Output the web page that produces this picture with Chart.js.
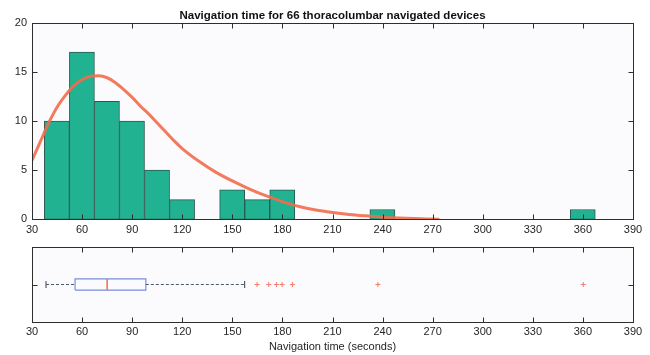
<!DOCTYPE html>
<html>
<head>
<meta charset="utf-8">
<script src="https://cdn.jsdelivr.net/npm/chart.js@4.4.1/dist/chart.umd.min.js"></script>
<style>
    html, body { margin: 0; padding: 0; background: #fff; }
    #wrap { position: relative; width: 650px; height: 355px; }
    canvas { position: absolute; left: 0; }
    #hist { top: 0; }
    #box { top: 240px; }
</style>
</head>
<body>
<div id="wrap">
    <canvas id="hist" width="650" height="240"></canvas>
    <canvas id="box" width="650" height="115"></canvas>
</div>
<script>
// Тексты
const TITLE = 'Navigation time for 66 thoracolumbar navigated devices';
const X_LABEL = 'Navigation time (seconds)';

// Оси
const xTicks = [30, 60, 90, 120, 150, 180, 210, 240, 270, 300, 330, 360, 390];
const countTicks = [0, 5, 10, 15, 20];

// Гистограмма (центры интервалов шириной 15 с)
const binCenters = [44.9, 59.9, 74.9, 89.9, 104.9, 119.9, 134.9, 149.9, 164.9, 179.9, 194.9,
                    209.9, 224.9, 239.9, 254.9, 269.9, 284.9, 299.9, 314.9, 329.9, 344.9, 359.9];
const binCounts = [10, 17, 12, 10, 5, 2, 0, 3, 2, 3, 0,
                   0, 0, 1, 0, 0, 0, 0, 0, 0, 0, 1];

// Кривая аппроксимации
const fitX = [30, 35, 40, 45, 50, 55, 60, 65, 70, 75, 80, 85, 90, 95, 100, 105, 110, 115, 120,
              130, 140, 150, 160, 170, 180, 190, 200, 210, 220, 230, 240, 250, 260, 270, 274];
const fitY = [6.0, 7.9, 9.8, 11.4, 12.6, 13.6, 14.2, 14.55, 14.6, 14.4, 13.9, 13.2, 12.4, 11.5, 10.7, 9.8, 8.9, 8.0, 7.2,
              5.9, 4.8, 3.9, 3.1, 2.4, 1.8, 1.3, 0.95, 0.7, 0.5, 0.35, 0.22, 0.13, 0.07, 0.02, 0];

// Диаграмма размаха
const whiskers = [38.4, 157.4];
const quartiles = [55.8, 98.2];
const median = 75;
const outliers = [164.8, 171.8, 176.4, 179.8, 186, 237.2, 360.2];

// Стиль
const FONT = "'Liberation Sans', Arial, sans-serif";
const TEXT_COLOR = '#262626';
const AXIS_COLOR = '#2e2e2e';
const BOX_HALF = 0.075;
const TICK_LEN = 5;

// Фон области построения + рамка с внутренними рисками
const framePlugin = {
    id: 'frame',
    beforeDraw(chart) {
        const { ctx, chartArea: a } = chart;
        ctx.save();
        ctx.fillStyle = '#fbfbfd';
        ctx.fillRect(a.left, a.top, a.right - a.left, a.bottom - a.top);
        ctx.restore();
    },
    afterDraw(chart) {
        const { ctx, chartArea: a, scales } = chart;
        const L = Math.round(a.left) + 0.5, R = Math.round(a.right) + 0.5;
        const T = Math.round(a.top) + 0.5, B = Math.round(a.bottom) + 0.5;
        ctx.save();
        ctx.strokeStyle = AXIS_COLOR;
        ctx.lineWidth = 1;
        ctx.strokeRect(L, T, R - L, B - T);
        ctx.beginPath();
        scales.x.ticks.forEach(t => {
            const px = Math.round(scales.x.getPixelForValue(t.value)) + 0.5;
            ctx.moveTo(px, B); ctx.lineTo(px, B - TICK_LEN);
            ctx.moveTo(px, T); ctx.lineTo(px, T + TICK_LEN);
        });
        scales.y.ticks.forEach(t => {
            const py = Math.round(scales.y.getPixelForValue(t.value)) + 0.5;
            ctx.moveTo(L, py); ctx.lineTo(L + TICK_LEN, py);
            ctx.moveTo(R, py); ctx.lineTo(R - TICK_LEN, py);
        });
        ctx.stroke();
        ctx.restore();
    }
};

const tickFont = { family: FONT, size: 11 };
const noGrid = { display: false, drawTicks: false };

// Верхний график: гистограмма
new Chart(document.getElementById('hist'), {
    type: 'bar',
    data: {
        datasets: [
            {
                type: 'line',
                data: fitX.map((v, i) => ({ x: v, y: fitY[i] })),
                borderColor: 'rgba(243, 108, 76, 0.9)',
                borderWidth: 3,
                pointRadius: 0,
                cubicInterpolationMode: 'monotone',
                order: 0
            },
            {
                type: 'bar',
                data: binCenters.map((v, i) => ({ x: v, y: binCounts[i] })),
                backgroundColor: '#21b292',
                borderColor: '#2a5a52',
                borderWidth: 1,
                borderSkipped: false,
                barPercentage: 1,
                categoryPercentage: 1,
                order: 1
            }
        ]
    },
    options: {
        responsive: false,
        animation: false,
        layout: { padding: { left: 0, right: 17, top: 0, bottom: 0 } },
        plugins: {
            legend: { display: false },
            tooltip: { enabled: false },
            title: {
                display: true,
                fullSize: false,
                text: TITLE,
                color: '#111',
                font: { family: FONT, size: 11.5, weight: 'bold' },
                padding: { top: 8.5, bottom: 0.4 }
            }
        },
        scales: {
            x: {
                type: 'linear',
                min: 30,
                max: 390,
                offset: false,
                afterBuildTicks(s) { s.ticks = xTicks.map(v => ({ value: v })); },
                afterFit(s) { s.height = 20.7; },
                grid: noGrid,
                border: { display: false },
                ticks: { font: tickFont, color: TEXT_COLOR, padding: 4, maxRotation: 0, autoSkip: false }
            },
            y: {
                min: 0,
                max: 20,
                afterBuildTicks(s) { s.ticks = countTicks.map(v => ({ value: v })); },
                afterFit(s) { s.width = 32; },
                grid: noGrid,
                border: { display: false },
                ticks: { font: tickFont, color: TEXT_COLOR, padding: 5 }
            }
        }
    },
    plugins: [framePlugin]
});

// Нижний график: диаграмма размаха
const whiskerStyle = {
    showLine: true,
    borderColor: '#4d5a6e',
    borderWidth: 1,
    borderDash: [3, 2],
    pointRadius: 0
};

new Chart(document.getElementById('box'), {
    type: 'scatter',
    data: {
        datasets: [
            Object.assign({ data: [{ x: whiskers[0], y: 1 }, { x: quartiles[0], y: 1 }] }, whiskerStyle),
            Object.assign({ data: [{ x: quartiles[1], y: 1 }, { x: whiskers[1], y: 1 }] }, whiskerStyle),
            {
                data: [
                    { x: quartiles[0], y: 1 - BOX_HALF },
                    { x: quartiles[1], y: 1 - BOX_HALF },
                    { x: quartiles[1], y: 1 + BOX_HALF },
                    { x: quartiles[0], y: 1 + BOX_HALF },
                    { x: quartiles[0], y: 1 - BOX_HALF }
                ],
                showLine: true,
                borderColor: '#7b8ce0',
                borderWidth: 1.2,
                pointRadius: 0
            },
            {
                data: [{ x: median, y: 1 - BOX_HALF }, { x: median, y: 1 + BOX_HALF }],
                showLine: true,
                borderColor: '#f06a50',
                borderWidth: 1.5,
                pointRadius: 0
            },
            {
                data: whiskers.map(v => ({ x: v, y: 1 })),
                pointStyle: 'line',
                rotation: 90,
                pointRadius: 3.5,
                borderColor: '#3a3a4a',
                borderWidth: 1
            },
            {
                data: outliers.map(v => ({ x: v, y: 1 })),
                pointStyle: 'cross',
                pointRadius: 2.5,
                borderColor: '#f27c6c',
                borderWidth: 1
            }
        ]
    },
    options: {
        responsive: false,
        animation: false,
        layout: { padding: { left: 0, right: 17, top: 7.3, bottom: 0 } },
        plugins: {
            legend: { display: false },
            tooltip: { enabled: false }
        },
        scales: {
            x: {
                type: 'linear',
                min: 30,
                max: 390,
                afterBuildTicks(s) { s.ticks = xTicks.map(v => ({ value: v })); },
                afterFit(s) { s.height = 33.3; },
                grid: noGrid,
                border: { display: false },
                ticks: { font: tickFont, color: TEXT_COLOR, padding: 4, maxRotation: 0, autoSkip: false },
                title: {
                    display: true,
                    text: X_LABEL,
                    color: TEXT_COLOR,
                    font: { family: FONT, size: 11 },
                    padding: { top: 0, bottom: 1.5 }
                }
            },
            y: {
                min: 0.5,
                max: 1.5,
                afterBuildTicks(s) { s.ticks = [{ value: 1 }]; },
                afterFit(s) { s.width = 32; },
                grid: noGrid,
                border: { display: false },
                ticks: { display: false }
            }
        }
    },
    plugins: [framePlugin]
});
</script>
</body>
</html>
